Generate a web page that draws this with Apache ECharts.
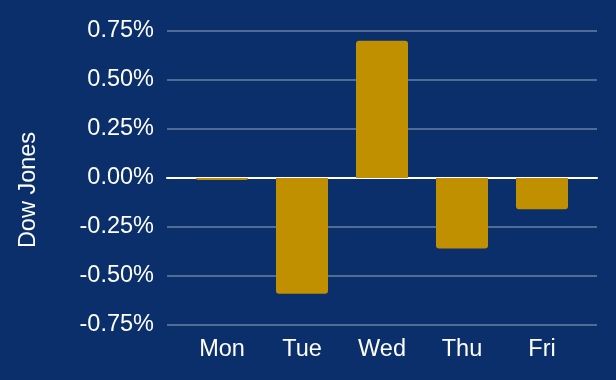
<!DOCTYPE html>
<html>
<head>
<meta charset="utf-8">
<script src="https://cdn.jsdelivr.net/npm/echarts@6/dist/echarts.min.js"></script>
<style>
html,body{margin:0;padding:0;background:#0a2f6a;}
#chart{width:616px;height:380px;}
</style>
</head>
<body>
<div id="chart"></div>
<script>
var categories = ['Mon', 'Tue', 'Wed', 'Thu', 'Fri'];
var values = [-0.01, -0.59, 0.70, -0.36, -0.16];
var yMin = -0.75, yMax = 0.75, yStep = 0.25;
var yTitle = 'Dow Jones';

var FONT = '"Liberation Sans", Arial, sans-serif';
var FS = 23.5;
var barData = values.map(function (v) {
  return { value: v, itemStyle: { borderRadius: v >= 0 ? [3, 3, 0, 0] : [0, 0, 3, 3] } };
});

var chart = echarts.init(document.getElementById('chart'), null, { renderer: 'canvas' });
chart.setOption({
  backgroundColor: '#0a2f6a',
  animation: false,
  grid: [
    { left: 167, right: 19, top: 31, bottom: 55, containLabel: false },
    { left: 182, right: 34, top: 31, bottom: 55, containLabel: false }
  ],
  xAxis: [
    {
      gridIndex: 0, type: 'category', data: categories,
      axisLine: { show: true, onZero: true, lineStyle: { color: '#ffffff', width: 2 } },
      axisTick: { show: false }, axisLabel: { show: false }, splitLine: { show: false }
    },
    {
      gridIndex: 1, type: 'category', data: categories,
      axisLine: { show: false, onZero: false }, axisTick: { show: false },
      axisLabel: { color: '#ffffff', fontSize: FS, fontFamily: FONT, margin: 13 },
      splitLine: { show: false }
    }
  ],
  yAxis: [
    {
      gridIndex: 0, type: 'value', min: yMin, max: yMax, interval: yStep,
      axisLine: { show: false }, axisTick: { show: false },
      axisLabel: {
        color: '#ffffff', fontSize: FS, fontFamily: FONT, margin: 13,
        formatter: function (v) { if (Math.abs(v) < 1e-9) v = 0; return v.toFixed(2) + '%'; }
      },
      splitLine: { show: true, lineStyle: { color: '#4f6b96', width: 2 } }
    },
    {
      gridIndex: 1, type: 'value', min: yMin, max: yMax, interval: yStep,
      axisLine: { show: false }, axisTick: { show: false }, axisLabel: { show: false },
      splitLine: { show: false }
    }
  ],
  graphic: [{
    type: 'text', left: 17, top: 'middle', rotation: Math.PI / 2,
    style: { text: yTitle, fill: '#ffffff', font: FS + 'px ' + FONT }
  }],
  series: [{
    type: 'bar', xAxisIndex: 1, yAxisIndex: 1, data: barData,
    barWidth: '65%', itemStyle: { color: '#c09000' }, z: 3
  }]
});
</script>
</body>
</html>
